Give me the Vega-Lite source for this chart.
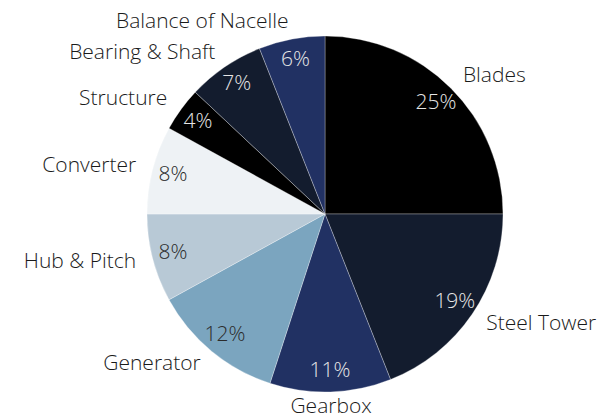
{
  "$schema": "https://vega.github.io/schema/vega-lite/v6.json",
  "width": 558,
  "height": 408,
  "autosize": {"type": "none"},
  "padding": {"left": 46, "top": 10, "right": 0, "bottom": 0},
  "background": "#ffffff",
  "config": {"view": {"stroke": null}, "text": {"font": "Open Sans", "fontSize": 21, "fontWeight": 300}},
  "data": {
    "values": [
      {"category": "Blades", "pct": 0.25, "order": 1},
      {"category": "Steel Tower", "pct": 0.19, "order": 2},
      {"category": "Gearbox", "pct": 0.11, "order": 3},
      {"category": "Generator", "pct": 0.12, "order": 4},
      {"category": "Hub & Pitch", "pct": 0.08, "order": 5},
      {"category": "Converter", "pct": 0.08, "order": 6},
      {"category": "Structure", "pct": 0.04, "order": 7},
      {"category": "Bearing & Shaft", "pct": 0.07, "order": 8},
      {"category": "Balance of Nacelle", "pct": 0.06, "order": 9}
    ]
  },
  "encoding": {
    "theta": {"field": "pct", "type": "quantitative", "stack": true},
    "order": {"field": "order", "type": "quantitative"}
  },
  "layer": [
    {
      "mark": {"type": "arc", "outerRadius": 178, "stroke": "#ffffff", "strokeWidth": 0.3},
      "encoding": {
        "color": {
          "field": "category",
          "type": "nominal",
          "legend": null,
          "scale": {
            "domain": ["Blades", "Steel Tower", "Gearbox", "Generator", "Hub & Pitch", "Converter", "Structure", "Bearing & Shaft", "Balance of Nacelle"],
            "range": ["#000000", "#131c2e", "#213163", "#7ba5bf", "#b8c9d6", "#eef2f5", "#000000", "#131c2e", "#213163"]
          }
        }
      }
    },
    {
      "mark": {"type": "text", "radius": 157, "align": "center", "baseline": "middle"},
      "encoding": {
        "text": {"field": "pct", "type": "quantitative", "format": ".0%"},
        "color": {
          "condition": {"test": "indexof(['Generator','Hub & Pitch','Converter'], datum.category) >= 0", "value": "#2b2b2b"},
          "value": "#e6e6e6"
        }
      }
    },
    {
      "mark": {"type": "text", "radius": 195, "color": "#1a1a1a", "align": "left", "baseline": "middle"},
      "encoding": {
        "text": {
          "condition": {"test": "indexof(['Blades','Steel Tower'], datum.category) >= 0", "field": "category"},
          "value": ""
        }
      }
    },
    {
      "mark": {"type": "text", "radius": 193, "color": "#1a1a1a", "align": "center", "baseline": "middle"},
      "encoding": {
        "text": {
          "condition": {"test": "datum.category === 'Gearbox'", "field": "category"},
          "value": ""
        }
      }
    },
    {
      "mark": {"type": "text", "radius": 195, "color": "#1a1a1a", "align": "right", "baseline": "middle"},
      "encoding": {
        "text": {
          "condition": {"test": "indexof(['Generator','Hub & Pitch','Converter','Structure','Bearing & Shaft','Balance of Nacelle'], datum.category) >= 0", "field": "category"},
          "value": ""
        }
      }
    }
  ]
}
